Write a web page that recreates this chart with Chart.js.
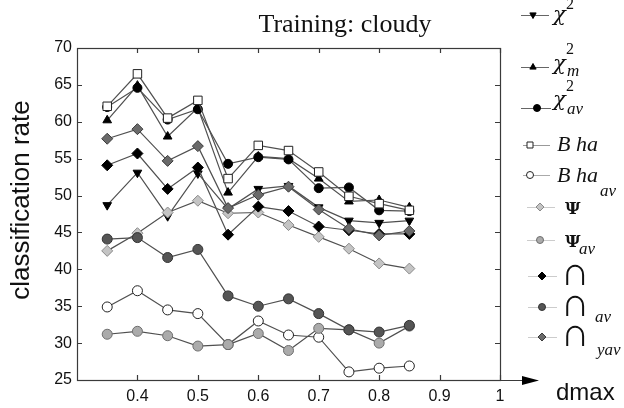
<!DOCTYPE html>
<html>
<head>
<meta charset="utf-8">
<script src="https://cdn.jsdelivr.net/npm/chart.js@4.4.0/dist/chart.umd.min.js"></script>
<style>
  html, body { margin: 0; padding: 0; background: #fff; }
  #wrap { width: 624px; height: 408px; position: relative; }
</style>
</head>
<body>
<div id="wrap"><canvas id="chart"></canvas></div>
<script>
// dmax values on the x axis
const dmax = [0.35, 0.4, 0.45, 0.5, 0.55, 0.6, 0.65, 0.7, 0.75, 0.8, 0.85];

// classification rate per measure
const chi2   = [48.7, 53.1, 47.2, 53.0, 48.2, 50.9, 51.3, 48.4, 46.6, 46.3, 46.6];
const chi2m  = [60.2, 64.9, 58.0, 61.9, 50.4, 55.3, 55.0, 52.3, 49.2, 49.4, 48.4];
const chi2av = [62.0, 64.6, 60.3, 61.7, 54.3, 55.2, 54.9, 51.0, 51.1, 48.0, 47.9];
const bha    = [62.1, 66.5, 60.5, 62.9, 52.3, 56.8, 56.1, 53.2, 49.9, 48.9, 48.0];
const bhaAv  = [34.9, 37.1, 34.5, 34.0, 29.8, 33.0, 31.1, 30.8, 26.1, 26.6, 26.9];
const psi    = [42.5, 44.9, 47.7, 49.3, 47.6, 47.7, 46.0, 44.4, 42.8, 40.8, 40.1];
const psiAv  = [31.2, 31.6, 31.0, 29.6, 29.8, 31.3, 29.0, 32.0, 31.8, 30.0, 32.3];
const cap    = [54.1, 55.7, 50.9, 53.8, 44.7, 48.5, 47.9, 45.8, 45.3, 44.8, 44.8];
const capAv  = [44.1, 44.3, 41.6, 42.7, 36.4, 35.0, 36.0, 34.0, 31.8, 31.5, 32.4];
const capYav = [57.7, 59.0, 54.7, 56.7, 48.3, 50.1, 51.2, 48.1, 45.5, 44.6, 45.2];

const xTicks = [0.4, 0.5, 0.6, 0.7, 0.8, 0.9, 1.0];
const xTickLabels = ['0.4', '0.5', '0.6', '0.7', '0.8', '0.9', '1'];
const yTicks = [25, 30, 35, 40, 45, 50, 55, 60, 65, 70];

const LINE = '#505050';

// marker styles
const series = [
  { name: 'chi2',   data: chi2,   style: 'triangle', rot: 180, r: 5,   bg: '#000', bc: '#000' },
  { name: 'chi2m',  data: chi2m,  style: 'triangle', rot: 0,   r: 5,   bg: '#000', bc: '#000' },
  { name: 'chi2av', data: chi2av, style: 'circle',   rot: 0,   r: 4.5, bg: '#000', bc: '#000' },
  { name: 'bha',    data: bha,    style: 'rect',     rot: 0,   r: 6,   bg: '#fff', bc: '#222' },
  { name: 'bhaAv',  data: bhaAv,  style: 'circle',   rot: 0,   r: 5,   bg: '#fff', bc: '#222' },
  { name: 'psi',    data: psi,    style: 'rectRot',  rot: 0,   r: 5.5, bg: '#c4c4c4', bc: '#8a8a8a' },
  { name: 'psiAv',  data: psiAv,  style: 'circle',   rot: 0,   r: 5,   bg: '#ababab', bc: '#6e6e6e' },
  { name: 'cap',    data: cap,    style: 'rectRot',  rot: 0,   r: 5.5, bg: '#000', bc: '#000' },
  { name: 'capAv',  data: capAv,  style: 'circle',   rot: 0,   r: 5,   bg: '#555', bc: '#333' },
  { name: 'capYav', data: capYav, style: 'rectRot',  rot: 0,   r: 5.5, bg: '#6a6a6a', bc: '#3a3a3a' }
];

const datasets = series.map((s, i) => ({
  label: s.name,
  data: dmax.map((x, j) => ({ x: x, y: s.data[j] })),
  borderColor: LINE,
  borderWidth: 1.2,
  pointStyle: s.style,
  rotation: s.rot,
  pointRadius: s.r,
  pointBackgroundColor: s.bg,
  pointBorderColor: s.bc,
  pointBorderWidth: 1,
  fill: false,
  tension: 0,
  order: series.length - i
}));

function drawMarker(ctx, style, x, y, r, rot, bg, bc) {
  ctx.save();
  ctx.translate(x, y);
  ctx.rotate(rot * Math.PI / 180);
  ctx.beginPath();
  if (style === 'circle') {
    ctx.arc(0, 0, r, 0, Math.PI * 2);
  } else if (style === 'triangle') {
    ctx.moveTo(0, -r);
    ctx.lineTo(r * 0.9, r * 0.6);
    ctx.lineTo(-r * 0.9, r * 0.6);
    ctx.closePath();
  } else if (style === 'rect') {
    ctx.rect(-r * 0.75, -r * 0.75, r * 1.5, r * 1.5);
  } else {
    ctx.moveTo(0, -r); ctx.lineTo(r, 0); ctx.lineTo(0, r); ctx.lineTo(-r, 0);
    ctx.closePath();
  }
  ctx.fillStyle = bg;
  ctx.fill();
  ctx.strokeStyle = bc;
  ctx.lineWidth = 1;
  ctx.stroke();
  ctx.restore();
}

const CHI = 'italic 21px "DejaVu Serif"';
const SUP = '16px "Liberation Serif"';
const SUB = 'italic 17px "Liberation Serif"';
const CAP = 'bold 40px "Liberation Serif"';

// legend rows: line y, line x range, marker x, text pieces [text, font, x, y]
const legendRows = [
  { y: 15,  x0: 521, x1: 549, mx: 533, lc: '#666', r: 3.5, text: [['χ', CHI, 553, 21], ['2', SUP, 566, 9]] },
  { y: 67,  x0: 521, x1: 549, mx: 533, lc: '#666', r: 3.5, text: [['χ', CHI, 553, 70], ['2', SUP, 566, 54], ['m', SUB, 567, 76]] },
  { y: 108, x0: 521, x1: 551, mx: 537, lc: '#666', r: 3.5, text: [['χ', CHI, 553, 106], ['2', SUP, 566, 91], ['av', SUB, 567, 114]] },
  { y: 145, x0: 523, x1: 550, mx: 530, lc: '#999', r: 4, text: [['B ha', 'italic 22px "Liberation Serif"', 557, 151]] },
  { y: 175, x0: 523, x1: 550, mx: 530, lc: '#aaa', r: 3.5, text: [['B ha', 'italic 22px "Liberation Serif"', 557, 182], ['av', SUB, 600, 196]] },
  { y: 207, x0: 527, x1: 555, mx: 540, lc: '#ccc', r: 4, text: [['Ψ', 'bold 17px "DejaVu Serif"', 565, 214]] },
  { y: 240, x0: 527, x1: 555, mx: 540, lc: '#ccc', r: 3.5, text: [['Ψ', 'bold 17px "DejaVu Serif"', 565, 247], ['av', SUB, 579, 254]] },
  { y: 276, x0: 528, x1: 557, mx: 542, lc: '#ccc', r: 4, text: [['∩', CAP, 561, 285]] },
  { y: 307, x0: 528, x1: 557, mx: 542, lc: '#ccc', r: 3.5, text: [['∩', CAP, 561, 316], ['av', SUB, 595, 322]] },
  { y: 337, x0: 528, x1: 557, mx: 542, lc: '#ccc', r: 4, text: [['∩', CAP, 561, 346], ['yav', SUB, 597, 355]] }
];

const decor = {
  id: 'decor',
  beforeDatasetsDraw(chart) {
    const ctx = chart.ctx;
    const a = chart.chartArea;
    const xs = chart.scales.x, ys = chart.scales.y;
    ctx.save();
    ctx.strokeStyle = '#3a3a3a';
    ctx.lineWidth = 1.2;
    ctx.strokeRect(a.left + 0.5, a.top + 0.5, a.right - a.left, a.bottom - a.top);
    ctx.beginPath();
    xTicks.forEach(v => {
      const px = Math.round(xs.getPixelForValue(v)) + 0.5;
      ctx.moveTo(px, a.bottom); ctx.lineTo(px, a.bottom - 5);
      ctx.moveTo(px, a.top); ctx.lineTo(px, a.top + 5);
    });
    yTicks.forEach(v => {
      const py = Math.round(ys.getPixelForValue(v)) + 0.5;
      ctx.moveTo(a.left, py); ctx.lineTo(a.left + 5, py);
      ctx.moveTo(a.right, py); ctx.lineTo(a.right - 5, py);
    });
    // x axis arrow
    ctx.moveTo(a.right, a.bottom + 0.5); ctx.lineTo(524, a.bottom + 0.5);
    ctx.stroke();
    ctx.beginPath();
    ctx.moveTo(522, a.bottom - 4); ctx.lineTo(539, a.bottom + 0.5); ctx.lineTo(522, a.bottom + 5);
    ctx.closePath();
    ctx.fillStyle = '#000';
    ctx.fill();
    ctx.restore();
  },
  afterDraw(chart) {
    const ctx = chart.ctx;
    ctx.save();
    ctx.fillStyle = '#111';
    // title
    ctx.font = '26px "Liberation Serif"';
    ctx.textAlign = 'center';
    ctx.textBaseline = 'alphabetic';
    ctx.fillText('Training: cloudy', 345, 32);
    // y title
    ctx.save();
    ctx.translate(22, 200);
    ctx.rotate(-Math.PI / 2);
    ctx.font = '26px "Liberation Sans"';
    ctx.textBaseline = 'middle';
    ctx.fillText('classification rate', 0, 0);
    ctx.restore();
    // x title
    ctx.textAlign = 'left';
    ctx.font = '24px "Liberation Sans"';
    ctx.fillText('dmax', 556, 400);
    // legend
    legendRows.forEach((row, i) => {
      const s = series[i];
      ctx.beginPath();
      ctx.strokeStyle = row.lc;
      ctx.lineWidth = 1;
      ctx.moveTo(row.x0, row.y + 0.5); ctx.lineTo(row.x1, row.y + 0.5);
      ctx.stroke();
      drawMarker(ctx, s.style, row.mx, row.y, row.r, s.rot, s.bg, s.bc);
      ctx.fillStyle = '#111';
      ctx.textAlign = 'left';
      ctx.textBaseline = 'alphabetic';
      row.text.forEach(t => {
        ctx.font = t[1];
        ctx.fillText(t[0], t[2], t[3]);
      });
    });
    ctx.restore();
  }
};

new Chart(document.getElementById('chart'), {
  type: 'line',
  data: { datasets: datasets },
  options: {
    responsive: true,
    maintainAspectRatio: false,
    animation: false,
    layout: { padding: { left: 0, top: 48, right: 124, bottom: 0 } },
    plugins: { legend: { display: false }, tooltip: { enabled: false } },
    scales: {
      x: {
        type: 'linear',
        min: 0.3,
        max: 1.0,
        grid: { display: false, drawTicks: false },
        border: { display: false },
        afterBuildTicks: axis => { axis.ticks = xTicks.map(v => ({ value: v })); },
        afterFit: scale => { scale.height = 28; },
        ticks: {
          padding: 7,
          color: '#111',
          font: { family: '"Liberation Sans"', size: 16 },
          callback: (v, i) => xTickLabels[i]
        }
      },
      y: {
        min: 25,
        max: 70,
        grid: { display: false, drawTicks: false },
        border: { display: false },
        afterBuildTicks: axis => { axis.ticks = yTicks.map(v => ({ value: v })); },
        afterFit: scale => { scale.width = 77; },
        ticks: {
          padding: 5,
          color: '#111',
          font: { family: '"Liberation Sans"', size: 16 }
        }
      }
    }
  },
  plugins: [decor]
});
</script>
</body>
</html>
